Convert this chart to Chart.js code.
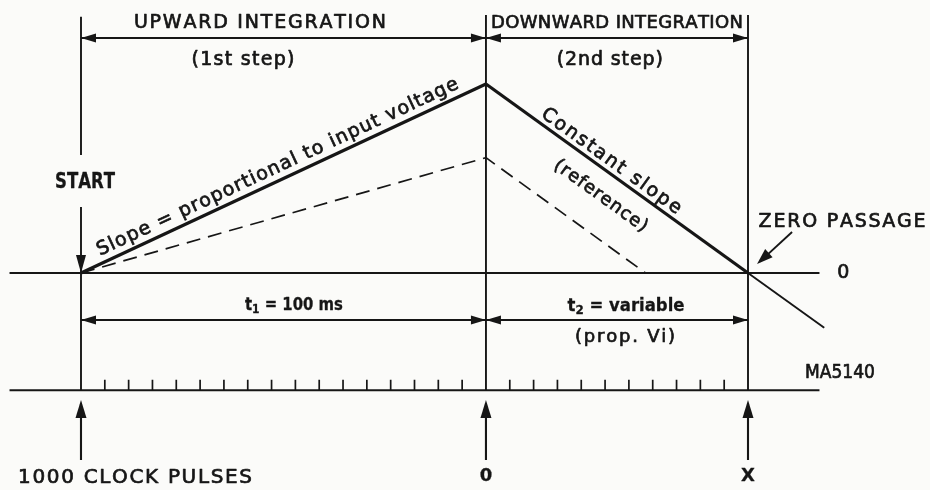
<!DOCTYPE html>
<html>
<head>
<meta charset="utf-8">
<script src="https://cdn.jsdelivr.net/npm/chart.js@4.4.1/dist/chart.umd.min.js"></script>
<style>
  html, body { margin: 0; padding: 0; background: #fbfbf9; }
  #canvasContainer { width: 930px; height: 490px; position: relative; }
</style>
</head>
<body>
<div id="canvasContainer"><canvas id="Grafica"></canvas></div>
<script>
// x in clock pulses, y in integrator output (arbitrary units, peak = 10)
const pulseMarks = [0, 17, 28];                 // start, switch to reference, zero passage
const markNames = ['1000 CLOCK PULSES', '0', 'X'];
const pulseTicks = [1, 2, 3, 4, 5, 6, 7, 8, 9, 10, 11, 12, 13, 14, 15, 16,
                    18, 19, 20, 21, 22, 23, 24, 25, 26, 27];
const rampFullX = [0, 17, 28];
const rampFullY = [0, 10, 0];
const rampDashX = [0, 17, 23.7];
const rampDashY = [0, 6.1, 0];
const overshootX = [28, 31.2];
const overshootY = [0, -2.9];
const baseX = [-3, 31];                          // zero line / clock line extent
const clockLevel = -6.2;
const phaseTitles = ['UPWARD INTEGRATION', 'DOWNWARD INTEGRATION'];
const phaseSteps = ['(1st step)', '(2nd step)'];

const INK = '#161616';
const FONT = '"DejaVu Sans", "Liberation Sans", sans-serif';

function pts(xs, ys){
    return xs.map((x, i) => ({x: x, y: ys[i]}));
}

function seg(data, width, dash){
    return {
        data: data,
        showLine: true,
        borderColor: INK,
        backgroundColor: INK,
        borderWidth: width,
        borderDash: dash || [],
        pointRadius: 0,
        spanGaps: false,
        tension: 0
    };
}

const topDim = 12.43, lowDim = -2.49;
const datasets = [
    seg(pts(rampFullX.slice(0, 2), rampFullY.slice(0, 2)), 3.2),
    seg(pts(rampFullX.slice(1), rampFullY.slice(1)), 3.2),
    seg(pts(overshootX, overshootY), 1.9),
    seg(pts(rampDashX, rampDashY), 1.7, [14, 8]),
    seg(pts(baseX, [0, 0]), 1.9),
    seg(pts(baseX, [clockLevel, clockLevel]), 2.1),
    seg(pulseTicks.flatMap(t => [{x: t, y: clockLevel}, {x: t, y: clockLevel + 0.55}, {x: t, y: null}]), 1.7),
    // left boundary, broken round START
    seg([{x: 0, y: 13.55}, {x: 0, y: 6.24}, {x: 0, y: null}, {x: 0, y: 3.49}, {x: 0, y: clockLevel}], 1.9),
    seg([{x: pulseMarks[1], y: 13.65}, {x: pulseMarks[1], y: clockLevel}], 1.9),
    seg([{x: pulseMarks[2], y: 13.65}, {x: pulseMarks[2], y: clockLevel}], 1.9),
    // dimension lines
    seg([{x: pulseMarks[0], y: topDim}, {x: pulseMarks[2], y: topDim}], 1.9),
    seg([{x: pulseMarks[0], y: lowDim}, {x: pulseMarks[2], y: lowDim}], 1.9),
    // clock arrows
    seg(pulseMarks.flatMap(m => [{x: m, y: -9.89}, {x: m, y: -6.9}, {x: m, y: null}]), 2.1),
    // zero passage pointer
    seg([{x: 29.85, y: 2.17}, {x: 28.5, y: 0.6}], 1.9)
];

const arrows = [
    {from: [17, topDim], to: [0, topDim], len: 15, half: 4.5},
    {from: [0, topDim], to: [17, topDim], len: 15, half: 4.5},
    {from: [28, topDim], to: [17, topDim], len: 15, half: 4.5},
    {from: [17, topDim], to: [28, topDim], len: 15, half: 4.5},
    {from: [17, lowDim], to: [0, lowDim], len: 15, half: 4.5},
    {from: [0, lowDim], to: [17, lowDim], len: 15, half: 4.5},
    {from: [28, lowDim], to: [17, lowDim], len: 15, half: 4.5},
    {from: [17, lowDim], to: [28, lowDim], len: 15, half: 4.5},
    {from: [0, 3.49], to: [0, 0], len: 18, half: 5},
    {from: [29.85, 2.17], to: [28.38, 0.48], len: 16, half: 5.5}
].concat(pulseMarks.map(m => ({from: [m, -9.89], to: [m, -6.72], len: 18, half: 5.5})));

const labels = [
    {parts: [{text: phaseTitles[0]}], x: 7.51, y: 13.23, w: 252, size: 19},
    {parts: [{text: phaseSteps[0]}], x: 6.8, y: 11.27, w: 103, size: 19},
    {parts: [{text: phaseTitles[1]}], x: 22.5, y: 13.23, w: 252, size: 18},
    {parts: [{text: phaseSteps[1]}], x: 22.2, y: 11.27, w: 106, size: 19},
    {parts: [{text: 'START'}], x: 0.17, y: 4.81, w: 60, size: 21, bold: true},
    {parts: [{text: 't'}, {text: '1', sub: true}, {text: ' = 100 ms'}], x: 8.94, y: -1.69, w: 98, size: 18, bold: true},
    {parts: [{text: 't'}, {text: '2', sub: true}, {text: ' = variable'}], x: 22.88, y: -1.75, w: 117, size: 18, bold: true},
    {parts: [{text: '(prop. Vi)'}], x: 22.84, y: -3.39, w: 100, size: 18},
    {parts: [{text: 'ZERO PASSAGE'}], x: 31.95, y: 2.7, w: 167, size: 19},
    {parts: [{text: '0'}], x: 32.0, y: 0, size: 19},
    {parts: [{text: 'MA5140'}], x: 31.86, y: -5.29, w: 70, size: 19},
    {parts: [{text: markNames[0]}], x: 2.27, y: -10.85, w: 234, size: 20},
    {parts: [{text: markNames[1]}], x: pulseMarks[1], y: -10.74, size: 18, bold: true},
    {parts: [{text: markNames[2]}], x: pulseMarks[2], y: -10.74, size: 18, bold: true}
];

// text running along the ramps: at = x on the line, off = px to the left of travel
const slanted = [
    {text: 'Slope = proportional to input voltage', line: [0, 0, 17, 10], at: 8.48, off: 12.5, w: 397, size: 19},
    {text: 'Constant slope', line: [17, 10, 28, 0], at: 22.0, off: 10.5, w: 168, size: 19},
    {text: '(reference)', line: [17, 10, 28, 0], at: 22.4, off: -24, w: 111, size: 18}
];

function head(ctx, x0, y0, x1, y1, len, half){
    const a = Math.atan2(y1 - y0, x1 - x0);
    const c = Math.cos(a), s = Math.sin(a);
    ctx.beginPath();
    ctx.moveTo(x1, y1);
    ctx.lineTo(x1 - len * c - half * s, y1 - len * s + half * c);
    ctx.lineTo(x1 - len * c + half * s, y1 - len * s - half * c);
    ctx.closePath();
    ctx.fill();
}

function drawLabel(ctx, parts, x, y, w, size, bold, angle){
    const weight = bold ? 'bold ' : '';
    const glyphs = [];
    parts.forEach(p => {
        const sz = p.sub ? Math.round(size * 0.72) : size;
        const font = weight + sz + 'px ' + FONT;
        ctx.font = font;
        [...p.text].forEach(ch => glyphs.push({ch: ch, font: font, dy: p.sub ? size * 0.28 : 0, w: ctx.measureText(ch).width}));
    });
    const natural = glyphs.reduce((acc, g) => acc + g.w, 0);
    let gap = 0, sx = 1;
    if (w && glyphs.length > 1){
        gap = (w - natural) / (glyphs.length - 1);
        if (gap < 0){ gap = 0; sx = w / natural; }
    }
    ctx.save();
    ctx.translate(x, y);
    if (angle) ctx.rotate(angle);
    ctx.scale(sx, 1);
    ctx.textBaseline = 'middle';
    ctx.textAlign = 'left';
    ctx.strokeStyle = INK;
    ctx.lineWidth = bold ? 0.3 : 0.7;
    ctx.lineJoin = 'round';
    let cx = -(natural + gap * (glyphs.length - 1)) / 2;
    glyphs.forEach(g => {
        ctx.font = g.font;
        ctx.fillText(g.ch, cx, g.dy);
        ctx.strokeText(g.ch, cx, g.dy);
        cx += g.w + gap;
    });
    ctx.restore();
}

const drawings = {
    id: 'drawings',
    beforeDraw(chart){
        const ctx = chart.ctx;
        ctx.save();
        ctx.fillStyle = '#fbfbf9';
        ctx.fillRect(0, 0, chart.width, chart.height);
        ctx.restore();
    },
    afterDatasetsDraw(chart){
        const ctx = chart.ctx;
        const px = v => chart.scales.x.getPixelForValue(v);
        const py = v => chart.scales.y.getPixelForValue(v);
        ctx.save();
        ctx.fillStyle = INK;
        arrows.forEach(a => head(ctx, px(a.from[0]), py(a.from[1]), px(a.to[0]), py(a.to[1]), a.len, a.half));
        labels.forEach(l => drawLabel(ctx, l.parts, px(l.x), py(l.y), l.w, l.size, l.bold, 0));
        slanted.forEach(s => {
            const [x1, y1, x2, y2] = s.line;
            const yAt = y1 + (s.at - x1) * (y2 - y1) / (x2 - x1);
            const ang = Math.atan2(py(y2) - py(y1), px(x2) - px(x1));
            const cx = px(s.at) + Math.sin(ang) * s.off;
            const cy = py(yAt) - Math.cos(ang) * s.off;
            drawLabel(ctx, [{text: s.text}], cx, cy, s.w, s.size, false, ang);
        });
        ctx.restore();
    }
};

let ctx = document.getElementById('Grafica').getContext('2d');
new Chart(ctx, {
    type: 'scatter',
    data: {datasets: datasets},
    options: {
        responsive: true,
        maintainAspectRatio: false,
        animation: false,
        events: [],
        layout: {padding: 0},
        plugins: {legend: {display: false}, tooltip: {enabled: false}},
        scales: {
            x: {type: 'linear', min: -3.40, max: 35.64, display: false},
            y: {type: 'linear', min: -11.48, max: 14.44, display: false}
        }
    },
    plugins: [drawings]
});
</script>
</body>
</html>
